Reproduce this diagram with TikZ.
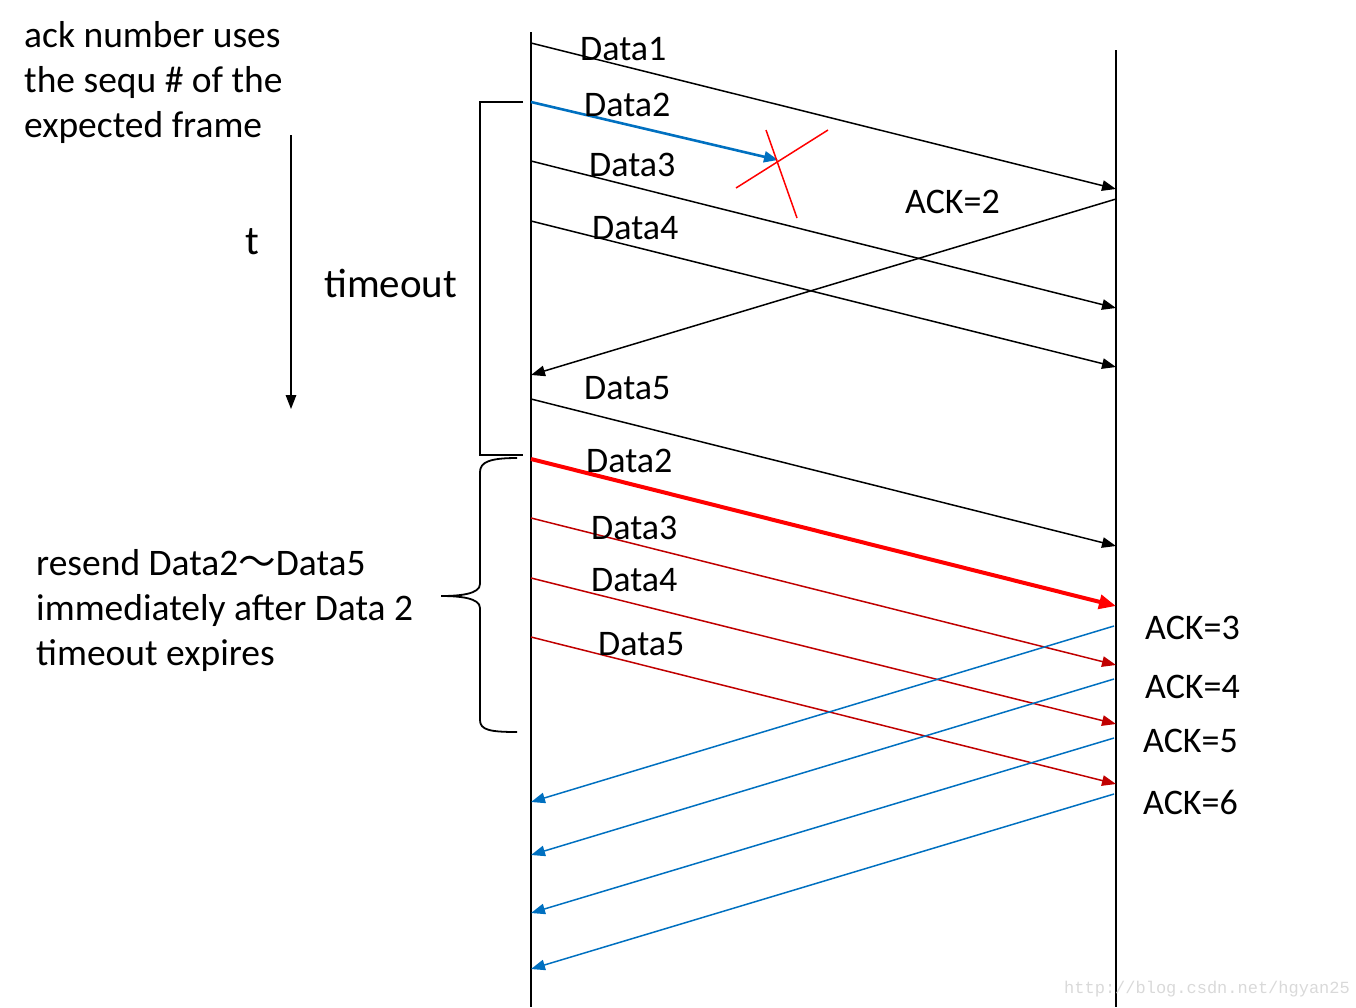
\documentclass[tikz,border=0pt]{standalone}
\usepackage{fontspec}
\setmainfont{Carlito}
\newfontfamily\cjk{Noto Sans CJK SC}
\newfontfamily\webfont{Liberation Mono}
\usetikzlibrary{arrows.meta}

\begin{document}
\begin{tikzpicture}[x=1pt, y=-1pt,
    lbl/.style={font=\fontsize{36}{45}\selectfont, inner sep=0pt, anchor=base west},
    note/.style={lbl, align=left, font=\fontsize{37.5}{45}\selectfont},
    msg/.style={line width=1.5pt, -{Triangle[length=14pt,width=10.5pt]}},
    lane/.style={line width=2pt}]
    % Define colours
    \definecolor{lostColour}{HTML}{0070C0}
    \definecolor{ackColour}{HTML}{0070C0}
    \definecolor{resendColour}{HTML}{C00000}
    \definecolor{crossColour}{HTML}{FF0000}
    \definecolor{markColour}{HTML}{D9D9D9}

    \useasboundingbox (0,0) rectangle (1356,1007);

    % Sender and receiver timelines
    \coordinate (sTop) at (531,32);
    \coordinate (sBot) at (531,1007);
    \coordinate (rTop) at (1116,50);
    \coordinate (rBot) at (1116,1007);
    \draw[lane] (sTop) -- (sBot);
    \draw[lane] (rTop) -- (rBot);

    % Time axis
    \coordinate (tTop) at (291,135);
    \coordinate (tBot) at (291,409);
    \draw[msg] (tTop) -- (tBot);
    \node[lbl, font=\fontsize{41}{48}\selectfont] (t) at (245,254) {t};

    % Note on the ack numbers (base is the last line)
    \node[note] (ackNote) at (24,137) {ack number uses\\the sequ \# of the\\expected frame};

    % First window: Data1, Data3, Data4, Data5
    \foreach \name/\sy/\ry in {d1/43/189, d3/161/308, d4/221/367, d5/399/546} {
        \coordinate (s\name) at (531,\sy);
        \coordinate (r\name) at (1116,\ry);
        \draw[msg] (s\name) -- (r\name);
    }

    % Lost Data2
    \coordinate (sd2) at (531,102);
    \coordinate (lost) at (778,160);
    \draw[lostColour, line width=2.6pt, -{Triangle[length=14pt,width=11pt]}] (sd2) -- (lost);
    \coordinate (xa) at (736,188);
    \coordinate (xb) at (828,130);
    \coordinate (xc) at (766,130);
    \coordinate (xd) at (797,218);
    \draw[crossColour, line width=1.5pt] (xa) -- (xb);
    \draw[crossColour, line width=1.5pt] (xc) -- (xd);

    % ACK=2
    \coordinate (ra2) at (1116,199);
    \coordinate (sa2) at (531,375);
    \draw[msg] (ra2) -- (sa2);

    % Labels of the first window
    \node[lbl] (ld1) at (580,60) {Data1};
    \node[lbl] (ld2) at (584,116) {Data2};
    \node[lbl] (ld3) at (589,176) {Data3};
    \node[lbl] (ld4) at (592,239) {Data4};
    \node[lbl] (ld5) at (584,399) {Data5};
    \node[lbl] (la2) at (905,213) {ACK=2};

    % Timeout bracket
    \coordinate (bTop) at (523,102);
    \coordinate (bBot) at (523,455);
    \draw[line width=1.8pt] (bTop) -- (480,102) -- (480,455) -- (bBot);
    \node[lbl, font=\fontsize{41}{48}\selectfont] (timeout) at (324,297) {timeout};

    % Resent window
    \coordinate (se2) at (531,459);
    \coordinate (re2) at (1116,606);
    \draw[crossColour, line width=4pt, -{Triangle[length=17pt,width=14pt]}] (se2) -- (re2);
    \foreach \name/\sy/\ry in {e3/518/665, e4/578/724, e5/637/784} {
        \coordinate (s\name) at (531,\sy);
        \coordinate (r\name) at (1116,\ry);
        \draw[msg, resendColour] (s\name) -- (r\name);
    }
    \node[lbl] (le2) at (586,472) {Data2};
    \node[lbl] (le3) at (591,539) {Data3};
    \node[lbl] (le4) at (591,591) {Data4};
    \node[lbl] (le5) at (598,655) {Data5};

    % ACKs of the resent window
    \foreach \name/\ry/\sy in {a3/626/802, a4/679/855, a5/738/913, a6/794/969} {
        \coordinate (r\name) at (1114,\ry);
        \coordinate (s\name) at (531,\sy);
        \draw[msg, ackColour] (r\name) -- (s\name);
    }
    \node[lbl] (la3) at (1145,639) {ACK=3};
    \node[lbl] (la4) at (1145,698) {ACK=4};
    \node[lbl] (la5) at (1143,752) {ACK=5};
    \node[lbl] (la6) at (1143,814) {ACK=6};

    % Resend brace
    \coordinate (cTop) at (517,458);
    \coordinate (cBot) at (517,732);
    \coordinate (cTip) at (441,596);
    \draw[line width=1.8pt] (cTop) .. controls (490,458) and (480,462) .. (480,472)
        -- (480,584) .. controls (480,594) and (460,596) .. (cTip)
        .. controls (460,596) and (480,598) .. (480,608)
        -- (480,720) .. controls (480,730) and (490,732) .. (cBot);
    \node[note] (resend) at (36,665) {resend Data2{\cjk ～}Data5\\immediately after Data 2\\timeout expires};

    % Watermark
    \node[inner sep=0pt, anchor=base west, text=markColour, font=\webfont\fontsize{17}{20}\selectfont] (mark) at (1064,993) {http://blog.csdn.net/hgyan25};
\end{tikzpicture}
\end{document}
